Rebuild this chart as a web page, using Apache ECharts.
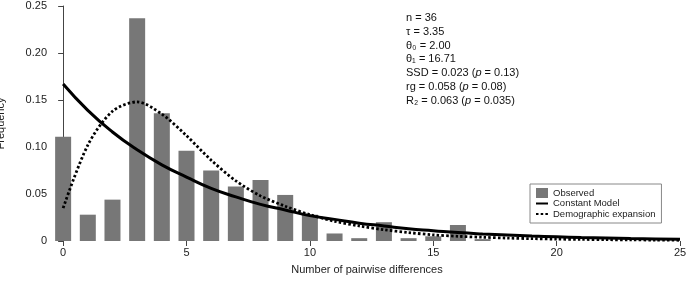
<!DOCTYPE html>
<html>
<head>
<meta charset="utf-8">
<script src="https://cdn.jsdelivr.net/npm/echarts@6/dist/echarts.min.js"></script>
<style>
  html, body { margin: 0; padding: 0; background: #fff; }
  #chart { width: 690px; height: 284px; }
</style>
</head>
<body>
<div id="chart"></div>
<script>
// observed mismatch distribution (bars)
var obsDiffs = [0, 1, 2, 3, 4, 5, 6, 7, 8, 9, 10, 11, 12, 13, 14, 15, 16, 17];
var observed = [0.111, 0.028, 0.044, 0.237, 0.136, 0.096, 0.075, 0.058, 0.065, 0.049, 0.028, 0.008, 0.003, 0.020, 0.003, 0.005, 0.017, 0.002];

// expected curves
var modelDiffs = [0, 1, 2, 3, 4, 5, 6, 7, 8, 9, 10, 11, 12, 13, 14, 15, 16, 17, 18, 19, 20, 21, 22, 23, 24, 25];
var constantModel = [0.167, 0.139, 0.116, 0.097, 0.081, 0.068, 0.056, 0.047, 0.039, 0.033, 0.027, 0.023, 0.019, 0.016, 0.013, 0.011, 0.009, 0.0075, 0.0063, 0.0053, 0.0045, 0.0037, 0.0031, 0.0026, 0.0022, 0.0018];
var demographic = [0.035, 0.102, 0.138, 0.148, 0.135, 0.112, 0.086, 0.064, 0.048, 0.037, 0.028, 0.021, 0.016, 0.012, 0.009, 0.0065, 0.005, 0.004, 0.0031, 0.0025, 0.002, 0.0017, 0.0014, 0.0012, 0.001, 0.0008];

var xTicks = [0, 5, 10, 15, 20, 25];

var statLines = [
  'n = 36',
  'τ = 3.35',
  'θ₀ = 2.00',
  'θ₁ = 16.71',
  'SSD = 0.023 ({i|p} = 0.13)',
  'rg = 0.058 ({i|p} = 0.08)',
  'R₂ = 0.063 ({i|p} = 0.035)'
];

function pairs(xs, ys) {
  var out = [];
  for (var i = 0; i < ys.length; i++) out.push([xs[i], ys[i]]);
  return out;
}

var font = "'Liberation Sans', Arial, 'DejaVu Sans', sans-serif";
var myChart = echarts.init(document.getElementById("chart"));
myChart.setOption({
  animation: false,
  textStyle: { fontFamily: font },
  grid: { left: 54, right: 10, top: 6, bottom: 43, outerBoundsMode: "none", containLabel: false },
  legend: {
    orient: "vertical",
    left: 530,
    top: 184,
    padding: [4, 6, 4, 5],
    itemGap: 0.5,
    itemWidth: 12,
    itemHeight: 10,
    borderColor: "#888",
    borderWidth: 1,
    textStyle: { fontSize: 9.5, color: "#222", fontFamily: font },
    data: [
      { name: "Observed", icon: "rect" },
      { name: "Constant Model", itemStyle: { opacity: 0 } },
      { name: "Demographic expansion", itemStyle: { opacity: 0 } }
    ]
  },
  xAxis: {
    type: "value",
    min: -0.37,
    max: 25,
    name: "Number of pairwise differences",
    nameLocation: "middle",
    nameGap: 23,
    nameTextStyle: { fontSize: 11, color: "#222" },
    axisLine: { show: false },
    axisTick: { show: true, length: 5, customValues: xTicks, lineStyle: { color: "#444" } },
    axisLabel: { customValues: xTicks, fontSize: 11, color: "#222", margin: 6 },
    splitLine: { show: false }
  },
  yAxis: {
    type: "value",
    min: 0,
    max: 0.25,
    interval: 0.05,
    name: "Frequency",
    nameLocation: "middle",
    nameRotate: 90,
    nameGap: 48,
    nameTextStyle: { fontSize: 11, color: "#222" },
    axisLine: { show: true, lineStyle: { color: "#444", width: 1 } },
    axisTick: { show: true, length: 5, lineStyle: { color: "#444" } },
    axisLabel: {
      fontSize: 11,
      color: "#222",
      margin: 7,
      formatter: function (v) { return v === 0 ? "0" : v.toFixed(2); }
    },
    splitLine: { show: false }
  },
  graphic: [
    {
      type: "text",
      left: 406,
      top: 11,
      style: {
        text: statLines.join("\n"),
        font: "11px " + font,
        lineHeight: 13.8,
        fill: "#111",
        rich: { i: { fontStyle: "italic", fontSize: 11, fontFamily: font, lineHeight: 13.8 } }
      }
    }
  ],
  series: [
    {
      name: "Observed",
      type: "bar",
      barWidth: 16,
      data: pairs(obsDiffs, observed),
      itemStyle: { color: "#777" },
      z: 1
    },
    {
      name: "Constant Model",
      type: "line",
      smooth: true,
      symbol: "none",
      data: pairs(modelDiffs, constantModel),
      lineStyle: { color: "#000", width: 3 },
      itemStyle: { color: "#000" },
      z: 3
    },
    {
      name: "Demographic expansion",
      type: "line",
      smooth: 0.3,
      symbol: "none",
      data: pairs(modelDiffs, demographic),
      lineStyle: { color: "#000", width: 2.8, type: [2.5, 2.2] },
      itemStyle: { color: "#000" },
      z: 4
    }
  ]
});
</script>
</body>
</html>
